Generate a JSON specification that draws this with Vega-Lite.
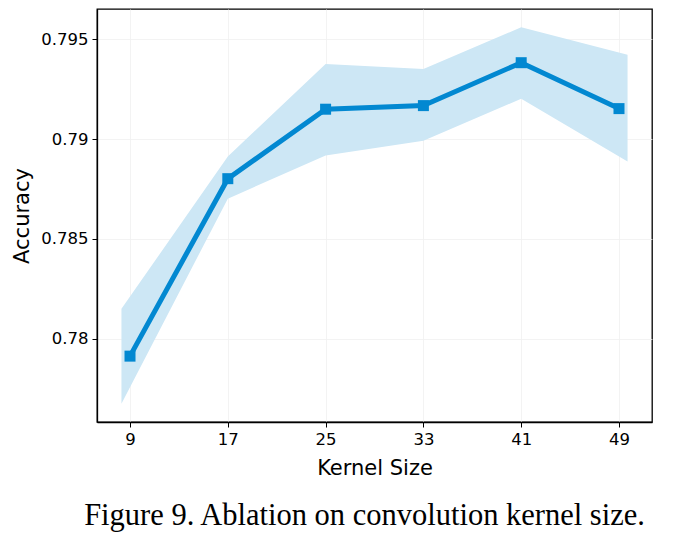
{
  "$schema": "https://vega.github.io/schema/vega-lite/v6.json",
  "width": 555,
  "height": 413,
  "padding": {"left": 11, "top": 9, "right": 26, "bottom": 5},
  "background": "white",
  "title": {
    "text": "Figure 9. Ablation on convolution kernel size.",
    "orient": "bottom",
    "anchor": "middle",
    "font": "Liberation Serif",
    "fontSize": 30.5,
    "fontWeight": "normal",
    "color": "black",
    "offset": 22,
    "dx": -10
  },
  "datasets": {
    "band": [
      {"kernel": 8.3, "lower": 0.77675, "upper": 0.7815},
      {"kernel": 17, "lower": 0.78702, "upper": 0.78913},
      {"kernel": 25, "lower": 0.78918, "upper": 0.79377},
      {"kernel": 33, "lower": 0.78992, "upper": 0.79352},
      {"kernel": 41, "lower": 0.79202, "upper": 0.7956},
      {"kernel": 49.7, "lower": 0.78888, "upper": 0.79423}
    ],
    "points": [
      {"kernel": 9, "accuracy": 0.77913},
      {"kernel": 17, "accuracy": 0.78802},
      {"kernel": 25, "accuracy": 0.7915},
      {"kernel": 33, "accuracy": 0.79168},
      {"kernel": 41, "accuracy": 0.79383},
      {"kernel": 49, "accuracy": 0.79153}
    ]
  },
  "layer": [
    {
      "data": {"name": "band"},
      "mark": {"type": "area", "color": "#cde7f5", "opacity": 1},
      "encoding": {
        "x": {"field": "kernel", "type": "quantitative"},
        "y": {"field": "lower", "type": "quantitative"},
        "y2": {"field": "upper"}
      }
    },
    {
      "data": {"name": "points"},
      "mark": {"type": "line", "color": "#0288d1", "strokeWidth": 5, "point": {"shape": "square", "size": 121, "color": "#0288d1", "filled": true, "opacity": 1}},
      "encoding": {
        "x": {
          "field": "kernel", "type": "quantitative",
          "scale": {"domain": [6.3, 51.7], "nice": false, "zero": false},
          "axis": {"values": [9, 17, 25, 33, 41, 49], "title": "Kernel Size", "titlePadding": 10}
        },
        "y": {
          "field": "accuracy", "type": "quantitative",
          "scale": {"domain": [0.77583, 0.79652], "nice": false, "zero": false},
          "axis": {"values": [0.78, 0.785, 0.79, 0.795], "format": "~g", "title": "Accuracy"}
        }
      }
    }
  ],
  "config": {
    "view": {"stroke": "black", "strokeWidth": 1.3},
    "axis": {
      "grid": true,
      "gridColor": "#f0f0f0",
      "gridWidth": 0.8,
      "domainColor": "black",
      "domainWidth": 1.3,
      "tickColor": "black",
      "tickSize": 5,
      "tickWidth": 1,
      "labelFont": "DejaVu Sans",
      "labelFontSize": 16.5,
      "labelColor": "black",
      "labelPadding": 4,
      "titleFont": "DejaVu Sans",
      "titleFontSize": 21,
      "titleFontWeight": "normal",
      "titleColor": "black",
      "titlePadding": 8
    },
    "axisX": {"labelFlush": false}
  }
}
